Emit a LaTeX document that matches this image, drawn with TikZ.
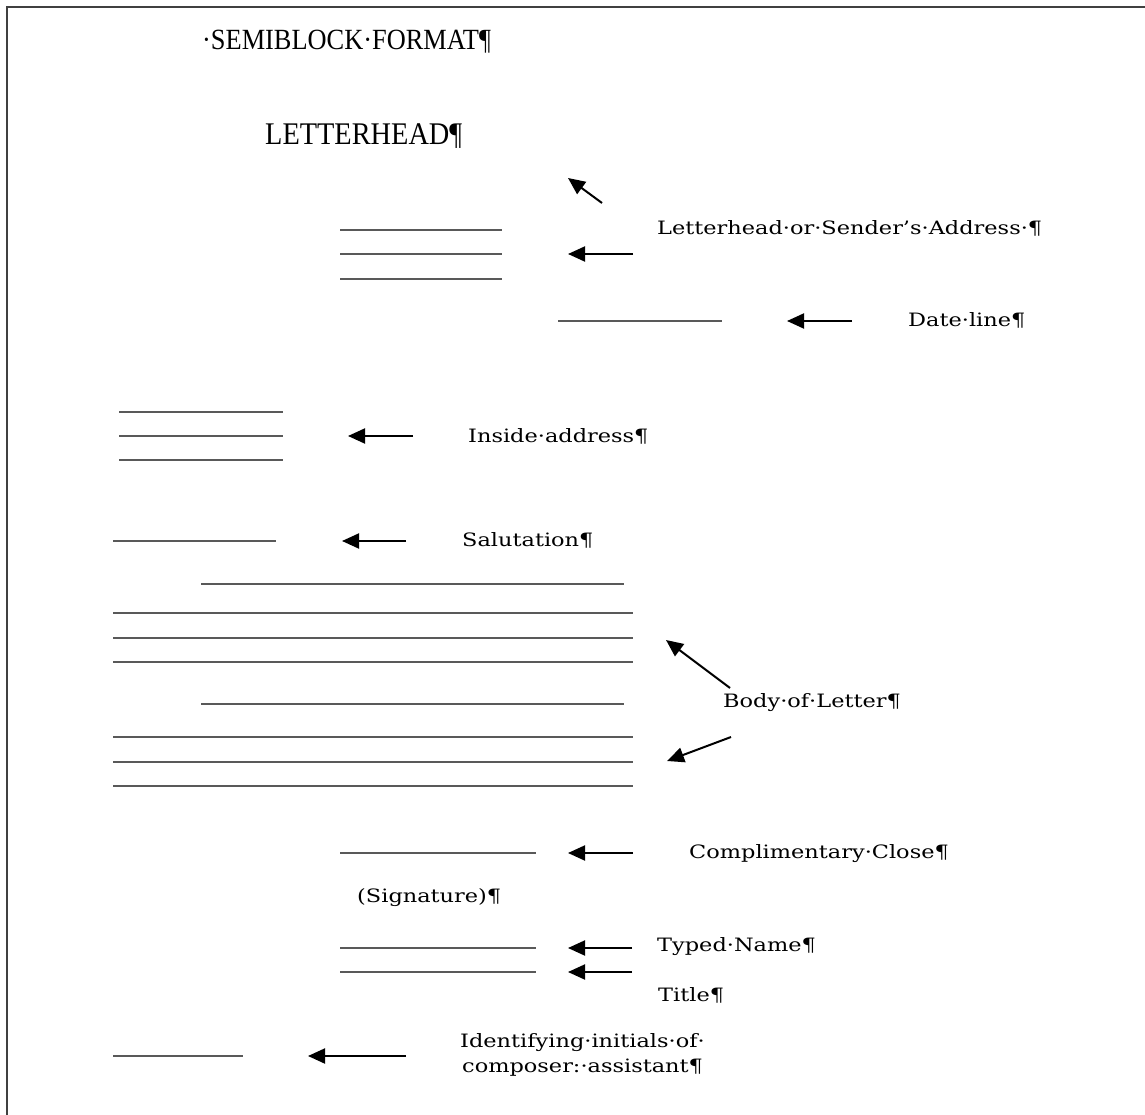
\documentclass[tikz,border=0pt]{standalone}
\usepackage{fontspec}
\setmainfont{Liberation Serif}
\newfontfamily\ttlfont[FakeStretch=0.9]{Liberation Serif}
\newfontfamily\headfont[FakeStretch=0.9]{Liberation Serif}
\newfontfamily\labfont[FakeStretch=1.22]{DejaVu Serif}
\usetikzlibrary{arrows.meta}
\begin{document}
\begin{tikzpicture}[x=1pt,y=-1pt,
  rule/.style={draw=black!65, line width=2.2pt},
  pointer/.style={draw=black, line width=2pt, -{Triangle[length=17pt,width=15pt]}},
  lbl/.style={anchor=base west, inner sep=0pt, font=\labfont\fontsize{18.4}{22}\selectfont},
]
\useasboundingbox (0,0) rectangle (1145,1115);
\fill[white] (0,0) rectangle (1145,1115);
\draw[line width=2.5pt, black!75] (1145,7) -- (7,7) -- (7,1115);

% titles
\node[anchor=base west, inner sep=0pt, font=\ttlfont\fontsize{29.3}{33}\selectfont] (title) at (202,50) {·SEMIBLOCK·FORMAT¶};
\node[anchor=base west, inner sep=0pt, font=\headfont\fontsize{31.5}{36}\selectfont] (lhead) at (265,145) {LETTERHEAD¶};

% letterhead / sender address
\coordinate (a1s) at (602,203); \coordinate (a1t) at (568,178);
\draw[pointer] (a1s) -- (a1t);
\draw[rule] (340,230) -- (502,230);
\draw[rule] (340,254) -- (502,254);
\draw[rule] (340,279) -- (502,279);
\coordinate (a2s) at (633,254); \coordinate (a2t) at (568,254);
\draw[pointer] (a2s) -- (a2t);
\node[lbl] (lsender) at (657,235) {Letterhead·or·Sender’s·Address·¶};

% date line
\draw[rule] (558,321) -- (722,321);
\coordinate (a3s) at (852,321); \coordinate (a3t) at (787,321);
\draw[pointer] (a3s) -- (a3t);
\node[lbl] (ldate) at (908,326) {Date·line¶};

% inside address
\draw[rule] (119,412) -- (283,412);
\draw[rule] (119,436) -- (283,436);
\draw[rule] (119,460) -- (283,460);
\coordinate (a4s) at (413,436); \coordinate (a4t) at (348,436);
\draw[pointer] (a4s) -- (a4t);
\node[lbl] (linside) at (468,442) {Inside·address¶};

% salutation
\draw[rule] (113,541) -- (276,541);
\coordinate (a5s) at (406,541); \coordinate (a5t) at (342,541);
\draw[pointer] (a5s) -- (a5t);
\node[lbl] (lsal) at (462,546) {Salutation¶};

% body
\draw[rule] (201,584) -- (624,584);
\draw[rule] (113,613) -- (633,613);
\draw[rule] (113,638) -- (633,638);
\draw[rule] (113,662) -- (633,662);
\draw[rule] (201,704) -- (624,704);
\draw[rule] (113,737) -- (633,737);
\draw[rule] (113,762) -- (633,762);
\draw[rule] (113,786) -- (633,786);
\coordinate (a6s) at (730,688); \coordinate (a6t) at (666,640);
\draw[pointer] (a6s) -- (a6t);
\coordinate (a7s) at (731,737); \coordinate (a7t) at (667,761);
\draw[pointer] (a7s) -- (a7t);
\node[lbl] (lbody) at (723,707) {Body·of·Letter¶};

% complimentary close
\draw[rule] (340,853) -- (536,853);
\coordinate (a8s) at (633,853); \coordinate (a8t) at (568,853);
\draw[pointer] (a8s) -- (a8t);
\node[lbl] (lclose) at (689,858) {Complimentary·Close¶};
\node[lbl] (lsig) at (357,902) {(Signature)¶};

% typed name and title
\draw[rule] (340,948) -- (536,948);
\draw[rule] (340,972) -- (536,972);
\coordinate (a9s) at (632,948); \coordinate (a9t) at (568,948);
\draw[pointer] (a9s) -- (a9t);
\coordinate (a10s) at (632,972); \coordinate (a10t) at (568,972);
\draw[pointer] (a10s) -- (a10t);
\node[lbl] (lname) at (657,951) {Typed·Name¶};
\node[lbl] (ltitle) at (658,1001) {Title¶};

% identifying initials
\draw[rule] (113,1056) -- (243,1056);
\coordinate (a11s) at (406,1056); \coordinate (a11t) at (308,1056);
\draw[pointer] (a11s) -- (a11t);
\node[lbl] (linit1) at (460,1047) {Identifying·initials·of·};
\node[lbl] (linit2) at (462,1072) {composer:·assistant¶};
\end{tikzpicture}
\end{document}
